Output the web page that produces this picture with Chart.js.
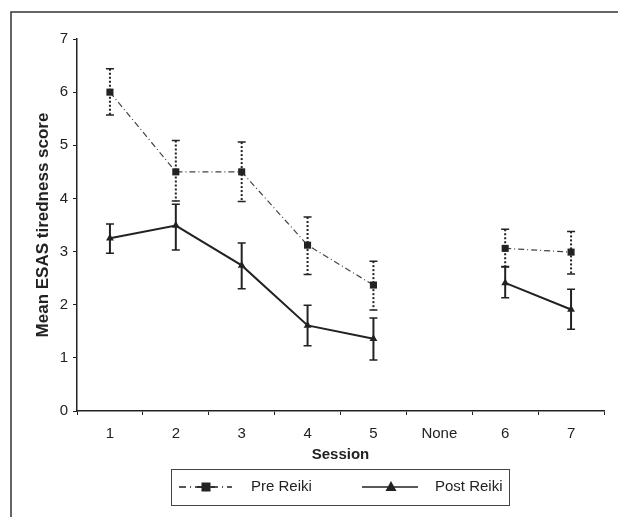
<!DOCTYPE html>
<html>
<head>
<meta charset="utf-8">
<script src="https://cdn.jsdelivr.net/npm/chart.js@4"></script>
<style>
  html, body { margin: 0; padding: 0; background: #fff; }
  #wrap { width: 618px; height: 517px; position: relative; }
</style>
</head>
<body>
<div id="wrap"><canvas id="chart"></canvas></div>
<script>
const sessions = ['1', '2', '3', '4', '5', 'None', '6', '7'];
const preMean = [6.0, 4.5, 4.5, 3.12, 2.37, null, 3.06, 2.99];
const preHi   = [6.44, 5.09, 5.06, 3.65, 2.82, null, 3.42, 3.38];
const preLo   = [5.57, 3.95, 3.94, 2.57, 1.90, null, 2.72, 2.58];
const postMean = [3.25, 3.49, 2.74, 1.61, 1.36, null, 2.41, 1.91];
const postHi   = [3.52, 3.89, 3.16, 1.99, 1.75, null, 2.71, 2.29];
const postLo   = [2.97, 3.03, 2.30, 1.23, 0.96, null, 2.13, 1.54];
const yTicks = [0, 1, 2, 3, 4, 5, 6, 7];

const ink = '#222';
const font = "'Liberation Sans', Arial, sans-serif";

// error bars, drawn under the markers
const errorBars = {
  id: 'errorBars',
  beforeDatasetsDraw(chart) {
    const ctx = chart.ctx;
    const y = chart.scales.y;
    const sets = [
      { idx: 0, hi: preHi, lo: preLo, dash: [2, 2] },
      { idx: 1, hi: postHi, lo: postLo, dash: [] }
    ];
    sets.forEach(s => {
      const meta = chart.getDatasetMeta(s.idx);
      meta.data.forEach((pt, i) => {
        if (s.hi[i] == null) return;
        const top = y.getPixelForValue(s.hi[i]);
        const bot = y.getPixelForValue(s.lo[i]);
        ctx.save();
        ctx.strokeStyle = ink;
        ctx.lineWidth = 2;
        ctx.setLineDash(s.dash);
        ctx.beginPath();
        ctx.moveTo(pt.x, top);
        ctx.lineTo(pt.x, bot);
        ctx.stroke();
        ctx.setLineDash([]);
        ctx.lineWidth = 1.5;
        ctx.beginPath();
        ctx.moveTo(pt.x - 4, top); ctx.lineTo(pt.x + 4, top);
        ctx.moveTo(pt.x - 4, bot); ctx.lineTo(pt.x + 4, bot);
        ctx.stroke();
        ctx.restore();
      });
    });
  }
};

// outer frame and boxed legend
const frameLegend = {
  id: 'frameLegend',
  afterDraw(chart) {
    const ctx = chart.ctx;
    ctx.save();
    ctx.strokeStyle = '#333';
    ctx.lineWidth = 1.5;
    ctx.beginPath();
    ctx.moveTo(11, chart.height);
    ctx.lineTo(11, 12);
    ctx.lineTo(chart.width, 12);
    ctx.stroke();

    ctx.lineWidth = 1;
    ctx.strokeStyle = '#444';
    ctx.strokeRect(171.5, 469.5, 338, 36);

    const cy = 487;
    // pre reiki sample
    ctx.strokeStyle = ink;
    ctx.lineWidth = 1.5;
    ctx.setLineDash([7, 4, 1, 4]);
    ctx.beginPath();
    ctx.moveTo(179, cy); ctx.lineTo(232, cy);
    ctx.stroke();
    ctx.setLineDash([]);
    ctx.beginPath();
    ctx.moveTo(197, cy); ctx.lineTo(215, cy);
    ctx.stroke();
    ctx.fillStyle = ink;
    ctx.fillRect(201.5, cy - 4.5, 9, 9);
    // post reiki sample
    ctx.lineWidth = 1.5;
    ctx.beginPath();
    ctx.moveTo(362, cy); ctx.lineTo(418, cy);
    ctx.stroke();
    ctx.beginPath();
    ctx.moveTo(391, cy - 6); ctx.lineTo(396.5, cy + 4); ctx.lineTo(385.5, cy + 4);
    ctx.closePath();
    ctx.fill();

    ctx.font = '15px ' + font;
    ctx.textBaseline = 'middle';
    ctx.fillText(chart.data.datasets[0].label, 251, cy);
    ctx.fillText(chart.data.datasets[1].label, 435, cy);
    ctx.restore();
  }
};

new Chart(document.getElementById('chart'), {
  type: 'line',
  data: {
    labels: sessions,
    datasets: [
      {
        label: 'Pre Reiki',
        data: preMean,
        borderColor: '#444',
        borderWidth: 1.2,
        borderDash: [6, 3, 1, 3],
        pointStyle: 'rect',
        pointRadius: 5,
        pointBackgroundColor: ink,
        pointBorderColor: ink,
        pointBorderWidth: 0,
        spanGaps: false,
        tension: 0
      },
      {
        label: 'Post Reiki',
        data: postMean,
        borderColor: ink,
        borderWidth: 2,
        pointStyle: 'triangle',
        pointRadius: 4.5,
        pointBackgroundColor: ink,
        pointBorderColor: ink,
        pointBorderWidth: 0,
        spanGaps: false,
        tension: 0
      }
    ]
  },
  options: {
    responsive: true,
    maintainAspectRatio: false,
    animation: false,
    layout: { padding: { left: 29, right: 14, top: 39, bottom: 51 } },
    plugins: {
      legend: { display: false },
      tooltip: { enabled: false }
    },
    scales: {
      x: {
        offset: true,
        afterFit(scale) { scale.height = 55; },
        grid: {
          offset: true,
          drawOnChartArea: false,
          drawTicks: true,
          tickLength: 4,
          color: ink
        },
        border: { display: true, color: ink, width: 1.5 },
        ticks: { color: ink, font: { family: font, size: 15 }, padding: 10 },
        title: {
          display: true,
          text: 'Session',
          color: ink,
          font: { family: font, size: 15, weight: 'bold' },
          padding: { top: 2, bottom: 2 }
        }
      },
      y: {
        min: 0,
        max: 7,
        afterFit(scale) { scale.width = 48; },
        afterBuildTicks(scale) { scale.ticks = yTicks.map(v => ({ value: v })); },
        grid: {
          drawOnChartArea: false,
          drawTicks: true,
          tickLength: 4,
          color: ink
        },
        border: { display: true, color: ink, width: 1.5 },
        ticks: { color: ink, font: { family: font, size: 15 }, padding: 5 },
        title: {
          display: true,
          text: 'Mean ESAS tiredness score',
          color: ink,
          font: { family: font, size: 17, weight: 'bold' },
          padding: { top: 4, bottom: 4 }
        }
      }
    }
  },
  plugins: [errorBars, frameLegend]
});
</script>
</body>
</html>
